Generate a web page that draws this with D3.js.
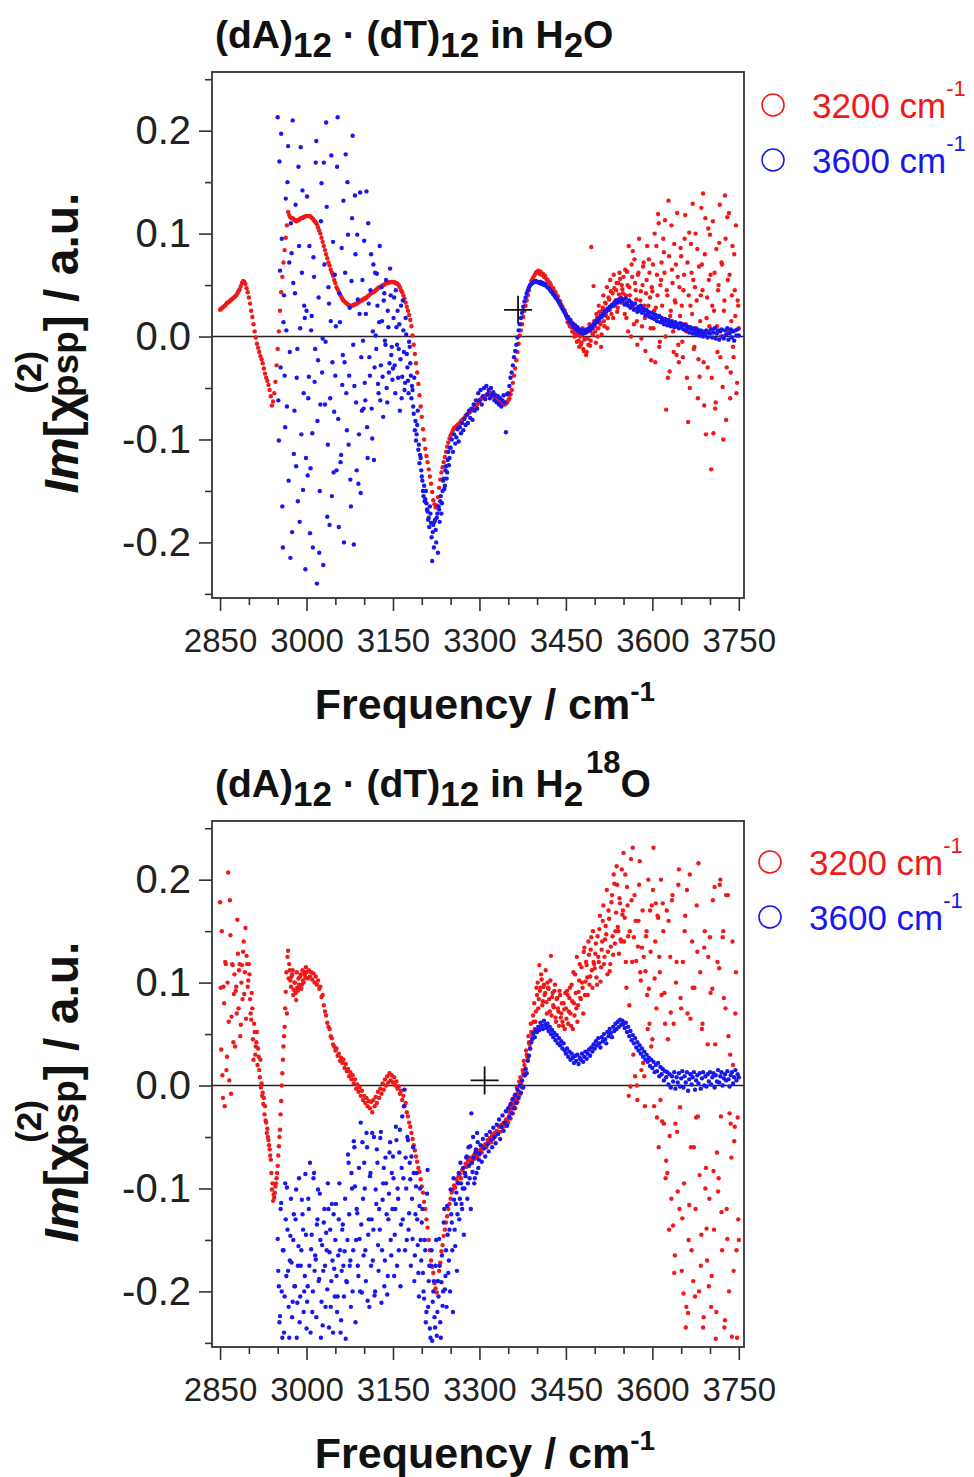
<!DOCTYPE html>
<html>
<head>
<meta charset="utf-8">
<script src="https://cdn.jsdelivr.net/npm/d3@7"></script>
<style>
  body { margin: 0; background: #fff; }
  svg { display: block; font-family: "Liberation Sans", Arial, sans-serif; }
</style>
</head>
<body>
<svg id="chart"></svg>
<script>
// spectra are sampled every 1 cm-1; even points are listed over the whole range,
// odd points only where the signal is noisy. values are Im[chi(2)psp] x 1000
var freqStep = 2;

// (dA)12.(dT)12 in H2O, 3200 cm-1 excitation, 2850..3750 (rows of 50 cm-1)
var redH2O = [
  26,27,28,29,30,31,33,33,34,35,36,37,38,39,40,42,44,46,49,52,54,53,51,47,43,
  38,32,25,19,12,5,-1,-7,-11,-15,-19,-22,-26,-31,-36,-40,-43,-47,-52,-58,-67,-63,-55,-44,-28,
  -12,5,25,43,58,72,84,96,108,121,118,116,115,115,114,113,112,113,113,114,115,115,116,116,117,
  117,117,117,117,116,115,114,112,111,109,106,103,100,96,92,88,84,80,76,72,69,65,62,59,55,
  52,48,46,43,41,39,37,35,34,33,32,31,30,30,30,30,31,31,32,32,33,34,35,35,36,
  37,37,38,39,40,41,42,43,43,44,45,46,47,48,48,49,50,50,51,52,52,52,53,53,53,
  53,53,52,52,51,50,48,45,43,40,37,33,29,25,21,16,10,1,-8,-17,-26,-35,-46,-57,-68,
  -78,-90,-100,-109,-116,-122,-129,-136,-143,-151,-159,-163,-166,-164,-156,-147,-139,-132,-127,-122,-117,-112,-107,-103,-99,
  -96,-94,-91,-89,-88,-87,-86,-85,-84,-82,-81,-80,-79,-77,-76,-75,-74,-73,-72,-71,-70,-69,-67,-66,-64,
  -63,-61,-60,-59,-58,-58,-57,-56,-55,-55,-56,-57,-58,-59,-60,-62,-63,-64,-65,-66,-66,-65,-66,-65,-64,
  -62,-60,-56,-52,-45,-38,-31,-23,-15,-7,1,6,12,19,25,30,35,40,45,50,54,56,58,60,62,
  63,64,61,63,60,61,58,59,56,55,53,52,50,47,47,44,43,40,39,35,34,31,29,26,25,
  22,18,19,12,15,9,13,4,8,1,6,-4,3,-8,2,-12,-3,4,-15,-2,6,-9,87,3,49,
  10,-6,18,8,24,12,2,28,15,33,20,8,38,26,44,30,18,47,35,52,28,41,56,33,46,
  58,22,40,63,5,48,30,70,83,12,52,36,-8,62,25,44,10,68,30,-14,55,20,75,38,-23,
  44,8,100,28,60,119,-10,50,72,15,82,113,-71,40,132,-34,25,65,5,90,33,-18,58,-25,20,
  78,-5,45,95,12,-40,-83,101,30,62,129,-12,48,8,85,-22,-39,40,70,139,-67,115,18,-30,55,
  99,-129,30,-94,62,-64,10,45,91,-20,72,-49,25,137,-81,116,5,60,-35,40,-10,80,20,-55,35,
  8
];
// odd points 3451..3749
var redH2OOdd = [
  20,14,16,10,12,5,9,0,6,-5,4,-10,0,-6,8,-14,-2,-18,5,-8,12,-4,10,2,15,
  5,22,0,30,14,-10,25,40,10,32,48,18,36,55,22,42,60,30,45,24,52,62,38,50,42,
  32,65,18,50,88,40,0,58,28,75,45,15,60,95,35,-2,50,72,18,42,88,30,62,8,48,
  70,25,-25,88,40,110,-5,55,30,95,62,0,45,-40,78,20,108,52,-15,35,70,120,-8,48,86,
  30,-20,60,118,5,72,40,-50,90,22,55,-10,100,35,-60,68,15,125,45,-25,80,-95,38,105,10,
  60,-40,112,25,-70,85,-15,50,128,0,70,-100,35,95,-30,55,120,-60,15,88,-20,45,108,-45,30
];

// (dA)12.(dT)12 in H2O, 3600 cm-1 excitation, 2950..3750
var blueH2O = [
  213,-101,64,197,-165,14,-38,134,-68,185,72,-215,81,210,-114,42,-126,-12,165,-180,184,62,-149,30,-226,
  25,-135,-39,-191,6,-94,77,-44,169,-240,-23,-210,-66,149,-2,169,-66,208,-175,48,-183,15,-155,92,-73,
  -38,-130,213,-185,14,-115,-47,132,-25,177,-91,99,-38,-139,54,195,-202,137,-64,99,-143,22,-152,-72,-4,
  93,-62,141,-118,32,-38,80,-99,70,-30,1,61,-46,14,-62,48,-39,35,-4,55,-64,9,-26,40,-10,
  -31,38,-55,9,25,-12,-72,30,-39,6,-52,18,-17,-43,-5,-26,-60,-52,-75,-91,-101,-86,-110,-123,-118,
  -136,-150,-145,-158,-162,-170,-176,-165,-181,-218,-183,-180,-188,-176,-210,-168,-160,-172,-150,-138,-145,-126,-132,-112,-118,
  -108,-100,-112,-95,-104,-98,-90,-102,-88,-94,-84,-91,-80,-86,-76,-84,-72,-79,-70,-81,-66,-72,-62,-70,-55,
  -62,-52,-66,-58,-50,-61,-48,-56,-52,-60,-50,-57,-54,-62,-57,-64,-58,-66,-60,-68,-62,-57,-64,-93,-56,
  -55,-48,-40,-35,-28,-20,-14,-8,-1,6,12,18,23,29,34,38,42,45,48,50,51,52,53,53,54,
  53,53,52,53,51,52,50,51,49,48,47,46,44,43,41,40,38,37,35,33,31,29,27,25,23,
  21,19,18,15,16,13,12,9,11,7,9,5,7,4,6,3,6,4,7,5,8,6,10,8,12,
  12,15,14,17,17,20,19,22,21,25,24,27,26,29,29,31,30,33,32,35,33,36,34,37,35,
  36,31,37,33,30,35,28,33,31,26,32,27,24,29,26,30,23,27,25,21,26,22,24,19,23,
  18,22,17,21,15,19,20,14,18,16,12,17,15,11,16,13,10,15,12,9,14,10,12,8,13,
  9,12,7,11,6,10,8,4,9,7,3,8,5,2,7,4,1,6,3,0,5,2,6,-1,4,
  3,7,-1,4,8,-2,3,6,-3,5,7,0,-2,6,2,8,-3,3,7,-1,5,-4,6,1,7,
  1
];
// odd points 2951..3249
var blueH2OOdd = [
  -62,170,-30,95,-205,40,-88,6,150,-140,-15,110,-190,52,-72,128,-40,-160,88,8,-95,142,-55,18,-118,
  136,-60,88,-128,20,-205,58,-12,190,-82,38,-150,112,-35,-222,70,-5,126,-105,32,-60,176,-25,-132,60,
  10,165,-80,42,-122,86,-18,-200,62,-55,150,-105,28,-165,115,-8,-48,80,-130,36,-95,140,-20,55,-70,
  -45,22,-88,110,-20,45,-70,5,-120,62,-12,30,-55,88,-28,15,-78,42,-8,-50,25,-35,66,-18,-42,
  18,-28,45,-8,-40,12,-22,-60,35,-15,-45,2,-30,-55,-10,-38,-48,-68,-40,-82,-95,-72,-105,-115,-130,
  -140,-155,-160,-150,-168,-178,-185,-172,-195,-190,-205,-178,-200,-172,-165,-180,-155,-162,-140,-148,-130,-138,-120,-125,-108
];

// (dA)12.(dT)12 in H2(18)O, 3200 cm-1 excitation, 2850..3750
var redH218O = [
  178,35,10,96,-20,118,28,207,5,146,67,117,89,38,96,161,75,118,59,117,130,89,153,126,96,
  118,84,64,75,25,52,38,52,36,15,25,2,-7,-12,-20,-36,-42,-53,-62,-72,-101,-112,-109,-98,-90,
  -78,-59,-43,-15,12,38,57,91,70,131,118,102,106,112,93,100,83,95,104,96,108,98,102,110,105,
  110,104,112,106,110,103,109,100,106,98,102,94,96,86,88,78,72,68,61,57,55,48,46,40,38,
  34,36,29,31,24,27,22,25,17,21,14,16,9,13,6,10,2,6,-3,1,-6,-2,-10,-5,-14,
  -10,-17,-12,-20,-15,-22,-16,-26,-14,-20,-11,-17,-6,-12,-3,-8,2,-4,6,0,9,3,12,5,10,
  3,8,0,4,-3,-1,-8,-5,-14,-10,-20,-17,-26,-30,-36,-40,-46,-52,-58,-63,-69,-74,-80,-84,-91,
  -98,-104,-113,-120,-130,-138,-150,-160,-170,-176,-182,-192,-197,-201,-190,-180,-172,-161,-155,-146,-140,-133,-127,-120,-115,
  -110,-104,-101,-97,-99,-91,-94,-88,-86,-90,-82,-80,-85,-76,-79,-73,-77,-70,-74,-72,-68,-71,-66,-69,-64,
  -67,-62,-65,-59,-61,-57,-60,-53,-56,-51,-55,-48,-52,-46,-49,-44,-47,-40,-45,-38,-41,-36,-39,-33,-35,
  -36,-26,-32,-22,-27,-17,-22,-12,-16,-6,-9,2,-2,12,20,16,30,26,42,36,52,45,62,55,72,
  88,75,117,95,103,82,98,90,81,100,94,72,126,86,78,92,66,84,75,58,88,70,62,80,55,
  75,92,60,85,70,98,55,80,108,75,62,91,118,84,100,70,134,101,117,88,127,106,144,95,120,
  114,138,98,125,152,101,132,160,118,142,147,108,170,111,135,185,127,196,150,213,154,128,177,140,166,
  226,163,120,193,145,78,-1,180,231,144,9,121,-14,160,218,102,134,22,9,111,150,55,94,170,38,
  45,231,104,177,-31,163,125,-14,88,177,-37,60,-73,-85,160,-49,71,180,-136,-182,-37,120,-103,210,-21,
  75,-129,-202,150,-235,190,-221,-116,65,-160,95,-60,-205,-31,130,216,-87,-175,55,-235,134,-100,-139,40,-195,
  144,-215,94,-83,193,-246,-65,-103,114,200,-123,144,85,-228,185,-149,48,-27,-37,-244,20,-54,70,-160,-31,
  -150
];
// odd points 2851..2999
var redH218OOddLow = [
  95,150,-12,80,120,15,100,62,180,-8,118,42,108,92,70,128,112,48,100,84,140,110,65,118,102,
  108,70,90,45,60,30,42,20,28,8,-2,-10,-18,-28,-34,-46,-50,-58,-68,-85,-95,-106,-104,-95,-85,
  -68,-50,-28,0,25,48,75,110,125,104,112,96,108,88,100,90,110,92,98,106,94,112,100,108,115
];
// odd points 3351..3749
var redH218OOddHigh = [
  -30,-20,-26,-14,-20,-10,-14,-2,-8,4,8,0,15,24,10,34,28,48,40,60,50,68,80,62,95,
  100,84,92,108,78,96,88,112,70,95,84,102,68,90,76,98,62,85,72,92,66,80,58,74,90,
  65,88,72,95,58,82,110,68,90,125,78,102,85,115,95,130,88,120,105,140,98,132,112,150,118,
  128,105,145,120,165,115,140,175,125,155,190,130,162,118,178,145,205,138,168,195,150,182,142,210,170,
  140,205,95,175,-10,150,220,120,30,185,160,0,135,195,110,15,170,125,-20,145,88,200,60,130,175,
  190,-20,140,75,165,-60,110,200,-35,150,90,-90,170,45,-140,125,-110,185,60,-165,100,-45,195,-120,85,
  -180,120,-95,165,-215,70,-150,205,-60,140,-190,95,-120,175,-30,-200,110,-145,60,-225,150,-80,-170,125,-110,
  90,-185,180,-140,40,-220,120,-90,195,-30,-160,150,-235,75,-120,185,-200,30,-70,140,-180,-40,110,-245,-130
];

// (dA)12.(dT)12 in H2(18)O, 3600 cm-1 excitation, 2950..3750
var blueH218O = [
  -149,-195,-224,-114,-245,-160,-205,-130,-99,-180,-245,-146,-172,-210,-125,-195,-101,-211,-156,-230,-175,-111,-140,-200,-86,
  -236,-195,-120,-75,-159,-220,-90,-180,-169,-135,-101,-188,-150,-210,-233,-133,-175,-143,-198,-120,-162,-215,-115,-240,-178,
  -150,-185,-205,-130,-160,-228,-140,-175,-161,-246,-191,-67,-125,-170,-85,-200,-54,-98,-150,-124,-185,-149,-36,-201,-110,
  -75,-160,-46,-209,-130,-88,-175,-46,-140,-204,-101,-62,-155,-120,-51,-211,-111,-80,-170,-95,-203,-130,-65,-150,-85,
  -69,-185,-120,-53,-100,-160,-43,-135,-30,-90,-4,-70,-150,-53,-124,-91,-69,-149,-85,-165,-98,-130,-182,-117,-150,
  -133,-182,-207,-160,-220,-82,-190,-236,-175,-248,-200,-225,-175,-243,-190,-149,-230,-191,-214,-133,-198,-160,-117,-182,-140,
  -101,-133,-220,-111,-156,-104,-125,-85,-110,-95,-120,-80,-100,-88,-69,-95,-78,-59,-27,-84,-70,-90,-62,-46,-80,
  -66,-58,-74,-52,-61,-69,-48,-57,-64,-45,-53,-60,-41,-50,-56,-38,-47,-33,-52,-40,-29,-44,-36,-25,-39,
  -22,-31,-18,-27,-13,-22,-9,-17,-4,-12,0,-7,5,-2,10,16,12,24,29,36,42,46,51,47,54,
  52,57,54,61,58,55,63,59,56,60,53,57,50,54,47,51,44,49,41,46,39,43,36,41,34,
  31,36,28,33,25,31,27,22,29,24,30,21,27,25,31,23,28,33,26,31,35,29,37,33,40,
  36,43,39,46,41,37,47,43,50,45,41,52,48,55,51,47,57,53,60,55,62,57,64,59,63,
  60,56,61,52,57,48,53,44,49,41,46,37,42,34,39,31,36,28,33,25,30,23,27,19,25,
  17,23,13,20,14,22,9,18,11,16,5,14,8,13,1,11,-2,9,4,13,-3,8,3,12,-1,
  7,14,-2,9,3,13,-5,6,11,1,8,13,-4,5,10,2,12,-3,7,13,0,9,-1,11,4,
  13,1,8,12,-2,10,4,15,3,9,13,0,7,11,5,14,6,-1,10,13,2,8,15,5,11,
  8
];
// odd points 2951..3299
var blueH218OOdd = [
  -180,-230,-120,-200,-160,-240,-95,-185,-140,-215,-170,-110,-225,-150,-195,-130,-245,-175,-90,-205,-160,-125,-220,-185,-145,
  -210,-110,-175,-240,-145,-200,-85,-165,-225,-130,-190,-105,-245,-155,-180,-120,-215,-160,-95,-235,-140,-190,-170,-125,-205,
  -115,-220,-165,-95,-240,-180,-135,-205,-110,-190,-150,-75,-175,-215,-100,-160,-60,-230,-120,-175,-80,-200,-135,-55,-165,
  -100,-190,-60,-145,-215,-85,-130,-170,-50,-200,-115,-75,-180,-140,-45,-160,-95,-195,-70,-125,-185,-105,-55,-165,-120,
  -90,-145,-40,-175,-110,-65,-195,-80,-130,-20,-160,-100,-50,-140,-75,-175,-110,-60,-190,-125,-85,-155,-205,-100,-170,
  -120,-200,-150,-230,-105,-215,-175,-245,-160,-210,-190,-235,-150,-220,-205,-175,-245,-165,-200,-120,-185,-215,-145,-170,-200,
  -125,-160,-90,-140,-115,-180,-95,-130,-75,-115,-100,-145,-85,-70,-110,-60,-90,-120,-75,-50,-95,-65,-85,-55,-72
];

var xTicks = [2850, 3000, 3150, 3300, 3450, 3600, 3750];
var xMinorTicks = [2900, 2950, 3050, 3100, 3200, 3250, 3350, 3400, 3500, 3550, 3650, 3700];
var yTicks = [-0.2, -0.1, 0, 0.1, 0.2];
var yMinorTicks = [-0.25, -0.15, -0.05, 0.05, 0.15, 0.25];
var legendLabels = ["3200", "3600"];
// the "+" cursor marks, [frequency, value]
var crossH2O = [3367, 0.026];
var crossH218O = [3309, 0.005];

var RED = "#f01818", BLUE = "#1818ee", INK = "#222";

var width = 974, height = 1477;
var plotLeft = 212, plotRight = 744, plotH = 526;

var svg = d3.select("#chart")
    .attr("width", width)
    .attr("height", height);

var xScale = d3.scaleLinear()
    .domain([2836, 3759])
    .range([plotLeft, plotRight]);

function toPoints(arr, start) {
    return arr.map(function(v, i) { return { f: start + i * freqStep, v: v / 1000 }; });
}

function drawPanel(top, cfg) {
    var g = svg.append("g");
    var yScale = d3.scaleLinear()
        .domain([-0.254, 0.257])
        .range([top + plotH, top]);

    // zero line
    g.append("line")
        .attr("x1", plotLeft).attr("x2", plotRight)
        .attr("y1", yScale(0)).attr("y2", yScale(0))
        .attr("stroke", INK).attr("stroke-width", 1.6);

    // points: red first, blue on top
    [[cfg.red, RED], [cfg.blue, BLUE]].forEach(function(s) {
        var pts = [];
        s[0].forEach(function(seg) { pts = pts.concat(toPoints(seg[0], seg[1])); });
        g.append("g").selectAll("circle")
            .data(pts)
            .enter().append("circle")
            .attr("cx", function(d) { return xScale(d.f); })
            .attr("cy", function(d) { return yScale(d.v); })
            .attr("r", 2.2)
            .attr("fill", s[1]);
    });

    // cursor cross
    var cx = xScale(cfg.cross[0]), cy = yScale(cfg.cross[1]);
    g.append("path")
        .attr("d", "M" + (cx - 14) + "," + cy + "H" + (cx + 14) + "M" + cx + "," + (cy - 14) + "V" + (cy + 14))
        .attr("stroke", "#111").attr("stroke-width", 1.8).attr("fill", "none");

    // frame
    g.append("rect")
        .attr("x", plotLeft).attr("y", top)
        .attr("width", plotRight - plotLeft).attr("height", plotH)
        .attr("fill", "none").attr("stroke", "#333").attr("stroke-width", 1.8);

    // y axis
    var yAx = g.append("g")
        .attr("transform", "translate(" + plotLeft + ",0)")
        .call(d3.axisLeft(yScale).tickValues(yTicks).tickSize(13).tickPadding(8)
            .tickFormat(function(d) { return d.toFixed(1); }));
    g.append("g")
        .attr("transform", "translate(" + plotLeft + ",0)")
        .call(d3.axisLeft(yScale).tickValues(yMinorTicks).tickSize(7).tickFormat(""));

    // x axis
    var xAx = g.append("g")
        .attr("transform", "translate(0," + (top + plotH) + ")")
        .call(d3.axisBottom(xScale).tickValues(xTicks).tickSize(13).tickPadding(18)
            .tickFormat(d3.format("d")));
    g.append("g")
        .attr("transform", "translate(0," + (top + plotH) + ")")
        .call(d3.axisBottom(xScale).tickValues(xMinorTicks).tickSize(7).tickFormat(""));

    g.selectAll(".domain").remove();
    g.selectAll(".tick line").attr("stroke", "#333").attr("stroke-width", 1.6);
    yAx.selectAll("text").attr("font-size", 40).attr("fill", INK).style("font-family", "Liberation Sans, Arial, sans-serif");
    xAx.selectAll("text").attr("font-size", 33).attr("fill", INK).style("font-family", "Liberation Sans, Arial, sans-serif");

    // title
    var t = g.append("text")
        .attr("x", 215).attr("y", top - 24)
        .attr("font-size", 39).attr("font-weight", "bold").attr("fill", "#111");
    t.append("tspan").text("(dA)");
    t.append("tspan").attr("font-size", 35).attr("dy", 9).text("12");
    t.append("tspan").attr("dy", -9).text(" \u00b7 (dT)");
    t.append("tspan").attr("font-size", 35).attr("dy", 9).text("12");
    t.append("tspan").attr("dy", -9).text(" in H");
    t.append("tspan").attr("font-size", 35).attr("dy", 9).text("2");
    if (cfg.iso) {
        t.append("tspan").attr("font-size", 31).attr("dx", 3).attr("dy", -33).text(cfg.iso);
        t.append("tspan").attr("dy", 24).text("O");
    } else {
        t.append("tspan").attr("dy", -9).text("O");
    }

    // y label
    var yl = g.append("text")
        .attr("transform", "translate(78," + (top + 271) + ") rotate(-90)")
        .attr("text-anchor", "middle")
        .attr("font-size", 48).attr("font-weight", "bold").attr("fill", "#111");
    yl.append("tspan").attr("font-style", "italic").text("Im");
    yl.append("tspan").text("[\u03c7");
    yl.append("tspan").attr("font-size", 35).attr("dy", -37).text("(2)");
    yl.append("tspan").attr("font-size", 37).attr("dx", -46).attr("dy", 37).text("psp");
    yl.append("tspan").text("] / a.u.");

    // x label
    var xl = g.append("text")
        .attr("x", 485).attr("y", top + 647)
        .attr("text-anchor", "middle")
        .attr("font-size", 43).attr("font-weight", "bold").attr("fill", "#111");
    xl.append("tspan").text("Frequency / cm");
    xl.append("tspan").attr("font-size", 28).attr("dy", -18).text("-1");

    // legend
    [RED, BLUE].forEach(function(c, i) {
        var ly = cfg.legend[1] + i * 55;
        g.append("circle")
            .attr("cx", cfg.legend[0]).attr("cy", ly).attr("r", 11)
            .attr("fill", "none").attr("stroke", c).attr("stroke-width", 1.6);
        var lt = g.append("text")
            .attr("x", cfg.legend[0] + 39).attr("y", ly + 13)
            .attr("font-size", 35).attr("fill", c);
        lt.append("tspan").text(legendLabels[i] + " cm");
        lt.append("tspan").attr("font-size", 22).attr("dy", -22).text("-1");
    });
}

drawPanel(72, {
    red: [[redH2O, 2850], [redH2OOdd, 3451]],
    blue: [[blueH2O, 2950], [blueH2OOdd, 2951]],
    cross: crossH2O, legend: [773, 105]
});
drawPanel(821, {
    red: [[redH218O, 2850], [redH218OOddLow, 2851], [redH218OOddHigh, 3351]],
    blue: [[blueH218O, 2950], [blueH218OOdd, 2951]],
    cross: crossH218O, legend: [770, 862], iso: "18"
});
</script>
</body>
</html>
